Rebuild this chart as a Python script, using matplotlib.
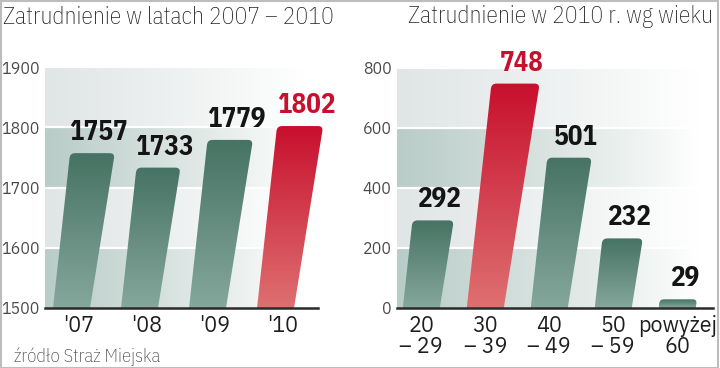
import numpy as np
import matplotlib.pyplot as plt
from matplotlib.path import Path
from matplotlib.patches import PathPatch, Rectangle
from matplotlib.colors import to_rgb

# dane
years = ["'07", "'08", "'09", "'10"]
employed = [1757, 1733, 1779, 1802]
year_ticks = [1500, 1600, 1700, 1800, 1900]

age_groups = ["20\n– 29", "30\n– 39", "40\n– 49", "50\n– 59", "powyżej\n60"]
employed_by_age = [292, 748, 501, 232, 29]
age_ticks = [0, 200, 400, 600, 800]

GREEN = ("#467363", "#85a79c")
RED = ("#c8102e", "#de7070")
BAND_DARK = "#b9ccc7"
BAND_LIGHT = "#e0e5e5"
NARROW = ["IBM Plex Sans Condensed", "Roboto", "DejaVu Sans"]
PLAIN = ["IBM Plex Sans", "Roboto", "DejaVu Sans"]


def band_background(ax, ticks, x_left, x_right):
    # pasy tla zanikajace w prawo
    y0, y1 = ticks[0], ticks[-1]
    rows, cols = 400, 200
    ys = np.linspace(y1, y0, rows)
    img = np.ones((rows, cols, 3))
    fade = np.clip(1 - np.linspace(0, 1, cols) / 0.95, 0, 1) ** 0.9
    for r, yv in enumerate(ys):
        idx = int(np.clip(np.searchsorted(ticks, yv, side="right") - 1, 0, len(ticks) - 2))
        col = np.array(to_rgb(BAND_DARK if (len(ticks) - 2 - idx) % 2 == 1 else BAND_LIGHT))
        img[r] = 1 - (1 - col)[None, :] * fade[:, None]
    ax.imshow(img, extent=(x_left, x_right, y0, y1), aspect="auto", zorder=0,
              interpolation="bilinear")
    for t in ticks[1:]:
        ax.plot([x_left, x_right], [t, t], color="white", lw=1.6, zorder=1)


def slanted_bar(ax, x, base, value, colors, half_px=18.5, lean_l=0.11, lean_r=0.16, rad=5):
    tr = ax.transData
    cx, by = tr.transform((x, base))
    _, ty = tr.transform((x, value))
    h = ty - by
    r = min(rad, h / 2)
    lx_top = cx - half_px + lean_l * h
    rx_top = cx + half_px + lean_r * h
    pts = [(cx - half_px, by), (cx + half_px, by),
           (rx_top - lean_r * r, ty - r), (rx_top, ty), (rx_top - r, ty),
           (lx_top + r, ty), (lx_top, ty), (lx_top - lean_l * r, ty - r),
           (cx - half_px, by)]
    codes = [Path.MOVETO, Path.LINETO, Path.LINETO, Path.CURVE3, Path.CURVE3,
             Path.LINETO, Path.CURVE3, Path.CURVE3, Path.CLOSEPOLY]
    data_pts = tr.inverted().transform(pts)
    patch = PathPatch(Path(data_pts, codes), facecolor="none", edgecolor="none", zorder=2)
    ax.add_patch(patch)
    top, bot = np.array(to_rgb(colors[0])), np.array(to_rgb(colors[1]))
    grad = np.linspace(0, 1, 100)[:, None, None] * (bot - top) + top
    xmin, xmax = data_pts[:, 0].min(), data_pts[:, 0].max()
    im = ax.imshow(grad, extent=(xmin, xmax, base, value), aspect="auto",
                   zorder=2, interpolation="bilinear")
    im.set_clip_path(patch)
    # srodek gornej krawedzi, do podpisu
    return tr.inverted().transform(((lx_top + rx_top) / 2 + 6, ty + 7))


def draw_panel(ax, labels, values, ticks, xlim, bg_right, highlight, tick_shift):
    ax.set_xlim(*xlim)
    ax.set_ylim(ticks[0], ticks[-1])
    band_background(ax, ticks, xlim[0], bg_right)
    for i, v in enumerate(values):
        cols = RED if i == highlight else GREEN
        lx, ly = slanted_bar(ax, i, ticks[0], v, cols)
        ax.text(lx, ly, str(v), ha="center", va="bottom", fontsize=19.5,
                fontweight="bold", family=NARROW,
                color="#c8102e" if i == highlight else "#141414", zorder=3)
    ax.plot([xlim[0], bg_right], [ticks[0], ticks[0]], color="#2a2a2a", lw=1.8,
            zorder=3, clip_on=False)
    ax.set_xlim(*xlim)
    ax.set_ylim(ticks[0], ticks[-1])
    ax.set_yticks(ticks)
    ax.set_yticklabels([str(t) for t in ticks], fontsize=11.5, color="#4a4a4a",
                       family=PLAIN, fontweight="light")
    ax.set_xticks(np.arange(len(labels)) + tick_shift)
    ax.set_xticklabels(labels, fontsize=15.5, color="#1e1e1e", family=PLAIN,
                       linespacing=0.95)
    ax.tick_params(length=0, axis="y", pad=4)
    ax.tick_params(length=0, axis="x", pad=5)
    for s in ax.spines.values():
        s.set_visible(False)


fig = plt.figure(figsize=(7.2, 3.68), dpi=100)
# lewy wykres troche szerszy niz tlo, zeby czerwony slupek nie byl uciety
ax1 = fig.add_axes([45 / 720, 60 / 368, 282 / 720, 241 / 368])
ax2 = fig.add_axes([397 / 720, 60 / 368, 316 / 720, 240 / 368])

draw_panel(ax1, years, employed, year_ticks, (-0.39, -0.39 + 282 / 68), 3.62, 3, 0.1)
draw_panel(ax2, age_groups, employed_by_age, age_ticks, (-0.38, 4.56), 4.56, 1, 0.0)

fig.text(3 / 720, 1 - 17 / 368, "Zatrudnienie w latach 2007 – 2010", fontsize=17,
         family=NARROW, fontweight="light", color="#222222", va="center", ha="left")
fig.text(408 / 720, 1 - 17 / 368, "Zatrudnienie w 2010 r. wg wieku", fontsize=17,
         family=NARROW, fontweight="light", color="#222222", va="center", ha="left")
fig.text(14 / 720, 1 - 357 / 368, "źródło Straż Miejska", fontsize=13.5,
         family=NARROW, fontweight="light", color="#444444", va="center", ha="left")

fig.patches.append(Rectangle((0.001, 0.001), 0.996, 0.997, transform=fig.transFigure,
                             fill=False, edgecolor="#bdbdbd", lw=1.5))

fig.savefig("out.png", dpi=100)
